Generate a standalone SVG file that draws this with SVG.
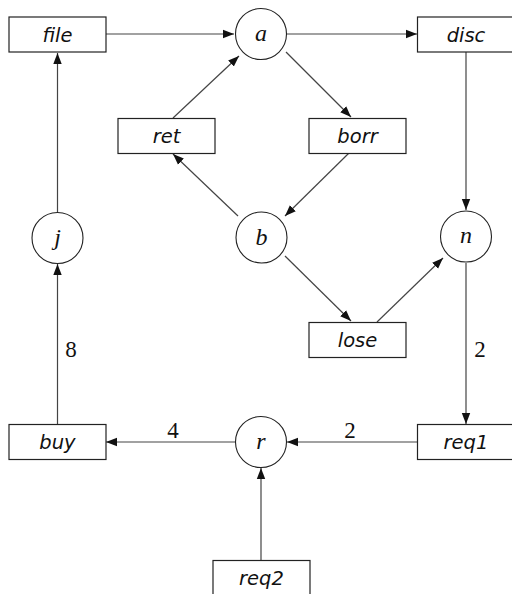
<svg xmlns="http://www.w3.org/2000/svg" width="512" height="594" viewBox="0 0 512 594">
  <style>
    .box { fill: #fff; stroke: #222; stroke-width: 1.2; }
    .place { fill: #fff; stroke: #222; stroke-width: 1.1; }
    .tl { font-family: "DejaVu Sans", sans-serif; font-style: italic; font-size: 19.5px; fill: #111; text-anchor: middle; }
    .pl { font-family: "Liberation Serif", serif; font-style: italic; font-size: 24px; fill: #111; text-anchor: middle; }
    .w { font-family: "Liberation Serif", serif; font-size: 23px; fill: #111; text-anchor: middle; }
    .arc { fill: none; stroke: #444; stroke-width: 1.2; marker-end: url(#head); }
  </style>
  <defs>
    <marker id="head" markerUnits="userSpaceOnUse" markerWidth="12" markerHeight="10" viewBox="0 0 12 10" refX="11" refY="5" orient="auto">
      <path d="M0,0.8 L11,5 L0,9.2 Z" fill="#111"/>
    </marker>
  </defs>

  <!-- arcs with their weights -->
  <g id="arcs">
    <line class="arc" x1="106" y1="34" x2="234" y2="34"/>
    <line class="arc" x1="286" y1="34" x2="417" y2="34"/>
    <line class="arc" x1="173" y1="118" x2="239" y2="56"/>
    <line class="arc" x1="286" y1="52" x2="351" y2="117"/>
    <line class="arc" x1="349" y1="153" x2="285" y2="216"/>
    <line class="arc" x1="238" y1="216" x2="173" y2="154"/>
    <line class="arc" x1="285" y1="256" x2="351" y2="321"/>
    <line class="arc" x1="377" y1="322" x2="443" y2="258"/>
    <line class="arc" x1="466" y1="52" x2="466" y2="210"/>
    <line class="arc" x1="466" y1="263" x2="466" y2="424"/>
    <line class="arc" x1="418" y1="442" x2="287" y2="442"/>
    <line class="arc" x1="235" y1="442" x2="106" y2="442"/>
    <line class="arc" x1="57.5" y1="424" x2="57.5" y2="264"/>
    <line class="arc" x1="57.5" y1="212" x2="57.5" y2="53"/>
    <line class="arc" x1="261" y1="560" x2="261" y2="468"/>
    <text class="w" x="71" y="357">8</text>
    <text class="w" x="480" y="357">2</text>
    <text class="w" x="173" y="438">4</text>
    <text class="w" x="350" y="438">2</text>
  </g>

  <!-- transitions -->
  <g id="file"><rect class="box" x="9" y="17" width="97" height="35"/><text class="tl" x="57.5" y="42">file</text></g>
  <g id="disc"><rect class="box" x="417.5" y="17" width="100" height="35"/><text class="tl" x="466" y="42">disc</text></g>
  <g id="ret"><rect class="box" x="118" y="118.5" width="97" height="35"/><text class="tl" x="166.5" y="143">ret</text></g>
  <g id="borr"><rect class="box" x="309" y="118.5" width="97" height="35"/><text class="tl" x="357.5" y="143">borr</text></g>
  <g id="lose"><rect class="box" x="309" y="322.5" width="97" height="35"/><text class="tl" x="357.5" y="347">lose</text></g>
  <g id="buy"><rect class="box" x="9" y="424.5" width="97" height="35"/><text class="tl" x="57.5" y="449">buy</text></g>
  <g id="req1"><rect class="box" x="417.5" y="424.5" width="100" height="35"/><text class="tl" x="466" y="449">req1</text></g>
  <g id="req2"><rect class="box" x="213" y="560.5" width="97" height="40"/><text class="tl" x="261.5" y="585">req2</text></g>

  <!-- places -->
  <g id="a"><circle class="place" cx="261" cy="34" r="25.5"/><text class="pl" x="261" y="41">a</text></g>
  <g id="b"><circle class="place" cx="261.5" cy="237.5" r="25.5"/><text class="pl" x="261.5" y="245">b</text></g>
  <g id="j"><circle class="place" cx="57.5" cy="238" r="25.5"/><text class="pl" x="57.5" y="245">j</text></g>
  <g id="n"><circle class="place" cx="466" cy="236.5" r="25.5"/><text class="pl" x="466" y="243">n</text></g>
  <g id="r"><circle class="place" cx="261" cy="442" r="25.5"/><text class="pl" x="261" y="449">r</text></g>
</svg>
